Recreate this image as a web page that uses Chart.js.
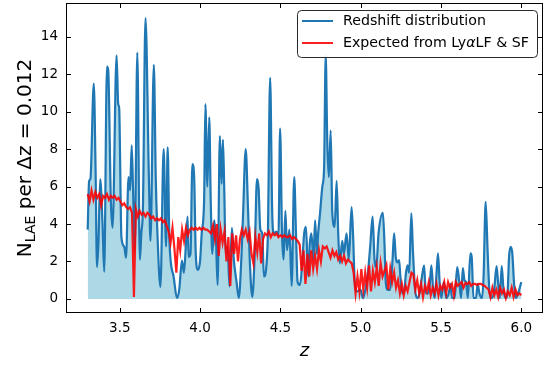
<!DOCTYPE html>
<html><head><meta charset="utf-8">
<script src="https://cdn.jsdelivr.net/npm/chart.js@4/dist/chart.umd.min.js"></script>
<style>html,body{margin:0;padding:0;background:#fff}canvas{display:block}</style>
</head><body>
<canvas id="c" width="545" height="365"></canvas>
<script>
// Observed LAE redshift distribution (counts per dz = 0.012)
const blueZ = [
 3.300,3.309,3.317,3.338,3.349,3.358,3.367,3.378,3.392,3.403,3.420,3.428,3.444,3.455,3.480,3.490,3.496,
 3.510,3.527,3.539,3.554,3.564,3.574,3.582,3.593,3.609,3.625,3.634,3.644,3.660,3.681,3.691,3.712,3.724,
 3.733,3.753,3.773,3.788,3.798,3.809,3.835,3.856,3.870,3.887,3.899,3.912,3.922,3.928,3.940,3.952,3.963,
 3.973,3.986,4.000,4.010,4.025,4.033,4.045,4.057,4.066,4.076,4.088,4.099,4.109,4.123,4.134,4.142,4.150,
 4.159,4.171,4.183,4.198,4.210,4.227,4.241,4.257,4.267,4.284,4.298,4.309,4.325,4.340,4.354,4.364,4.375,
 4.387,4.397,4.412,4.422,4.436,4.449,4.459,4.475,4.488,4.498,4.510,4.520,4.531,4.541,4.556,4.570,4.586,
 4.597,4.607,4.622,4.634,4.648,4.659,4.673,4.683,4.693,4.706,4.716,4.727,4.735,4.747,4.761,4.772,4.782,
 4.792,4.802,4.813,4.823,4.838,4.850,4.860,4.870,4.885,4.895,4.912,4.926,4.943,4.952,4.963,4.977,4.998,
 5.014,5.029,5.045,5.060,5.074,5.086,5.097,5.111,5.138,5.148,5.156,5.169,5.183,5.198,5.208,5.218,5.228,
 5.239,5.247,5.259,5.272,5.282,5.292,5.302,5.315,5.325,5.338,5.352,5.366,5.378,5.395,5.405,5.420,5.430,
 5.440,5.451,5.461,5.471,5.481,5.492,5.502,5.517,5.533,5.548,5.560,5.568,5.585,5.601,5.615,5.625,5.636,
 5.646,5.656,5.667,5.683,5.691,5.702,5.718,5.728,5.739,5.755,5.765,5.778,5.790,5.801,5.817,5.831,5.846,
 5.856,5.866,5.878,5.889,5.903,5.914,5.924,5.934,5.944,5.955,5.965,5.980,6.000
];
const blueN = [
 3.7,6.3,6.4,11.5,7.0,1.7,3.0,6.4,4.1,1.45,12.4,12.2,5.3,3.8,13.0,10.4,10.2,
 3.3,2.8,2.2,6.5,5.8,8.2,6.0,2.6,13.15,2.1,3.5,4.9,15.0,6.5,3.1,12.5,6.4,
 3.8,0.65,8.0,2.8,8.1,3.1,1.2,0.05,0.5,2.05,1.4,2.95,4.4,2.25,2.4,7.2,6.5,
 2.4,1.55,2.05,3.5,5.3,10.4,6.0,9.7,5.3,2.4,4.2,3.1,0.75,8.7,6.15,8.5,6.0,
 2.4,2.8,0.66,3.8,2.1,0.9,0.05,2.2,4.4,8.0,4.9,2.1,0.1,2.4,6.4,5.95,3.7,
 3.5,1.2,1.7,3.5,11.8,4.6,3.5,3.6,3.4,9.1,3.5,2.1,4.7,2.6,3.7,0.7,6.5,
 3.5,0.9,0.75,1.7,3.5,3.85,1.2,2.95,3.5,2.1,4.2,2.4,3.5,4.6,6.0,7.0,13.0,
 8.3,6.5,9.0,4.6,3.85,6.3,3.5,1.9,3.1,2.4,3.5,2.1,4.9,3.5,0.9,0.4,0.5,
 0.05,0.5,1.4,2.9,4.4,2.1,1.7,3.5,4.6,2.95,0.9,0.48,0.48,2.07,3.5,2.25,1.95,
 2.07,1.2,0.3,0.5,1.4,1.8,1.4,4.57,2.6,0.55,0.05,0.3,1.0,1.8,0.3,0.3,0.8,
 1.8,0.5,0.05,1.2,2.43,0.8,0.05,0.9,0.05,0.3,0.8,0.05,0.05,1.7,0.8,0.05,1.65,
 1.0,0.9,0.05,2.43,2.25,0.05,0.05,0.8,0.3,0.05,1.2,5.18,2.6,0.5,0.05,0.5,1.75,
 0.8,0.05,1.75,0.5,0.05,0.3,2.3,2.78,2.43,0.8,0.05,0.3,0.9
];

// Expected counts from the Lya luminosity function & selection function
const redStart = 3.3;
const redStep = 0.012;
const redN = [
 5.6,5.2,5.8,5.3,5.7,5.4,5.6,5.0,5.5,
 5.4,5.6,5.3,5.5,5.4,5.5,5.3,5.4,
 5.2,5.0,5.1,4.9,4.8,4.9,4.6,
 0.1,
 4.8,4.4,4.7,4.5,4.6,4.4,4.6,4.5,
 4.3,4.4,4.2,4.3,4.2,4.3,4.1,4.2,
 3.9,3.6,3.0,3.8,2.7,1.4,3.3,2.6,
 3.7,3.1,3.8,3.4,3.7,3.8,
 3.7,3.8,3.7,3.8,3.7,3.8,3.7,3.7,3.6,
 3.5,3.9,3.2,4.0,2.3,3.7,3.0,
 3.6,2.0,3.3,0.7,3.5,
 2.4,3.4,2.0,3.2,3.7,3.4,
 3.7,3.2,3.6,2.4,1.9,
 3.3,2.5,3.5,1.9,3.2,3.5,
 3.4,3.6,3.3,3.5,3.4,3.5,3.3,3.4,
 3.3,3.4,3.3,3.3,3.4,3.2,3.3,3.2,3.1,2.9,
 1.5,2.6,0.8,2.4,1.2,2.6,1.6,
 2.3,1.6,2.6,2.0,2.8,2.7,2.8,
 2.5,2.2,2.6,2.3,2.5,2.1,2.3,
 2.0,2.3,1.9,2.1,2.0,1.9,
 1.4,0.3,1.2,0.4,1.6,0.5,1.4,
 0.6,1.8,0.4,1.5,0.9,1.7,0.7,1.9,
 1.2,1.5,1.8,0.5,1.6,0.9,1.4,
 0.6,1.0,0.3,0.8,0.2,0.7,0.4,0.9,
 1.4,1.3,0.5,1.0,
 0.3,0.8,0.1,0.7,0.4,0.9,0.2,0.6,0.3,0.8,0.2,0.7,0.5,0.9,
 0.3,0.9,0.6,0.8,0.2,0.9,0.7,0.8,0.9,0.6,0.85,0.8,0.9,0.7,0.8,
 0.8,0.75,0.8,0.8,0.75,0.7,0.6,0.5,0.1,
 0.6,0.2,0.5,0.1,0.6,0.3,0.5,0.05,0.4,0.2,0.6,0.1,0.5,0.2,0.3,0.2
];

const xTicks = [3.5, 4.0, 4.5, 5.0, 5.5, 6.0];
const yTicks = [0, 2, 4, 6, 8, 10, 12, 14];
const legendLabels = ['Redshift distribution', 'Expected from Ly\u03b1LF & SF'];

const BLUE = '#1f77b4';
const RED = 'rgba(255,0,0,0.88)';
const FONT = "'DejaVu Sans', sans-serif";

const bluePoints = blueZ.map((z, i) => ({x: z, y: blueN[i]}));
const redPoints = redN.map((v, i) => ({x: +(redStart + i * redStep).toFixed(3), y: v}));

// Frame with inward ticks, axis titles and the legend box
const decor = {
  id: 'decor',
  afterDraw(chart) {
    const {ctx, chartArea: a, scales} = chart;
    const xs = scales.x, ys = scales.y;
    ctx.save();
    ctx.strokeStyle = '#000';
    ctx.lineWidth = 1;
    const L = Math.round(a.left) + 0.5, R = Math.round(a.right) - 0.5;
    const T = Math.round(a.top) + 0.5, B = Math.round(a.bottom) - 0.5;
    ctx.strokeRect(L, T, R - L, B - T);
    const tl = 4.5;
    ctx.beginPath();
    xTicks.forEach(v => {
      const p = Math.round(xs.getPixelForValue(v)) + 0.5;
      ctx.moveTo(p, B); ctx.lineTo(p, B - tl);
      ctx.moveTo(p, T); ctx.lineTo(p, T + tl);
    });
    yTicks.forEach(v => {
      const p = Math.round(ys.getPixelForValue(v)) + 0.5;
      ctx.moveTo(L, p); ctx.lineTo(L + tl, p);
      ctx.moveTo(R, p); ctx.lineTo(R - tl, p);
    });
    ctx.stroke();

    // x title
    ctx.fillStyle = '#000';
    ctx.textBaseline = 'alphabetic';
    ctx.textAlign = 'center';
    ctx.font = 'italic 18px ' + FONT;
    ctx.fillText('z', (a.left + a.right) / 2, 356);

    // y title: N_LAE per Δz = 0.012
    ctx.save();
    ctx.translate(31, (a.top + a.bottom) / 2);
    ctx.rotate(-Math.PI / 2);
    const big = '20px ' + FONT, small = '14px ' + FONT;
    const parts = [['N', big, 0], ['LAE', small, 4], [' per \u0394z = 0.012', big, 0]];
    let w = 0;
    parts.forEach(p => { ctx.font = p[1]; w += ctx.measureText(p[0]).width; });
    let x = -w / 2;
    ctx.textAlign = 'left';
    parts.forEach(p => { ctx.font = p[1]; ctx.fillText(p[0], x, p[2]); x += ctx.measureText(p[0]).width; });
    ctx.restore();

    // legend
    const bx = 297.5, by = 10.5, bw = 240, bh = 47, r = 4;
    ctx.beginPath();
    ctx.moveTo(bx + r, by);
    ctx.arcTo(bx + bw, by, bx + bw, by + bh, r);
    ctx.arcTo(bx + bw, by + bh, bx, by + bh, r);
    ctx.arcTo(bx, by + bh, bx, by, r);
    ctx.arcTo(bx, by, bx + bw, by, r);
    ctx.closePath();
    ctx.fillStyle = 'rgba(255,255,255,0.9)';
    ctx.fill();
    ctx.strokeStyle = '#2a2a2a';
    ctx.lineWidth = 1;
    ctx.stroke();
    const rows = [[21, BLUE], [43, RED]];
    rows.forEach(([yy, col]) => {
      ctx.beginPath();
      ctx.strokeStyle = col;
      ctx.lineWidth = 2;
      ctx.moveTo(302, yy); ctx.lineTo(333, yy);
      ctx.stroke();
    });
    ctx.fillStyle = '#000';
    ctx.textBaseline = 'middle';
    ctx.textAlign = 'left';
    ctx.font = '14.2px ' + FONT;
    ctx.fillText(legendLabels[0], 343, 21);
    const segs = [['Expected from Ly', '14.2px '], ['\u03b1', 'italic 14.2px '], ['LF & SF', '14.2px ']];
    let lx = 343;
    segs.forEach(s => { ctx.font = s[1] + FONT; ctx.fillText(s[0], lx, 43); lx += ctx.measureText(s[0]).width; });
    ctx.restore();
  }
};

new Chart(document.getElementById('c'), {
  type: 'line',
  data: {
    datasets: [
      {
        label: legendLabels[1],
        data: redPoints,
        borderColor: RED,
        borderWidth: 2.2,
        pointRadius: 0,
        fill: false,
        tension: 0
      },
      {
        label: legendLabels[0],
        data: bluePoints,
        borderColor: BLUE,
        borderWidth: 2.2,
        pointRadius: 0,
        backgroundColor: '#add8e6',
        fill: 'origin',
        cubicInterpolationMode: 'monotone'
      }
    ]
  },
  options: {
    responsive: false,
    animation: false,
    devicePixelRatio: 1,
    layout: {padding: {left: 0, top: 3, right: 2, bottom: 0}},
    plugins: {legend: {display: false}, tooltip: {enabled: false}},
    scales: {
      x: {
        type: 'linear',
        min: 3.165, max: 6.135,
        afterBuildTicks: s => { s.ticks = xTicks.map(v => ({value: v})); },
        afterFit: s => { s.height = 52; s.paddingLeft = 0; s.paddingRight = 0; },
        grid: {display: false, drawTicks: false},
        border: {display: false},
        ticks: {
          color: '#000', font: {family: FONT, size: 13.5}, padding: 7,
          maxRotation: 0, autoSkip: false,
          callback: v => v.toFixed(1)
        }
      },
      y: {
        type: 'linear',
        min: -0.75, max: 15.8,
        afterBuildTicks: s => { s.ticks = yTicks.map(v => ({value: v})); },
        afterFit: s => { s.width = 66; s.paddingTop = 0; s.paddingBottom = 0; },
        grid: {display: false, drawTicks: false},
        border: {display: false},
        ticks: {
          color: '#000', font: {family: FONT, size: 13.5}, padding: 8,
          autoSkip: false,
          callback: v => String(v)
        }
      }
    }
  },
  plugins: [decor]
});
</script>
</body></html>
